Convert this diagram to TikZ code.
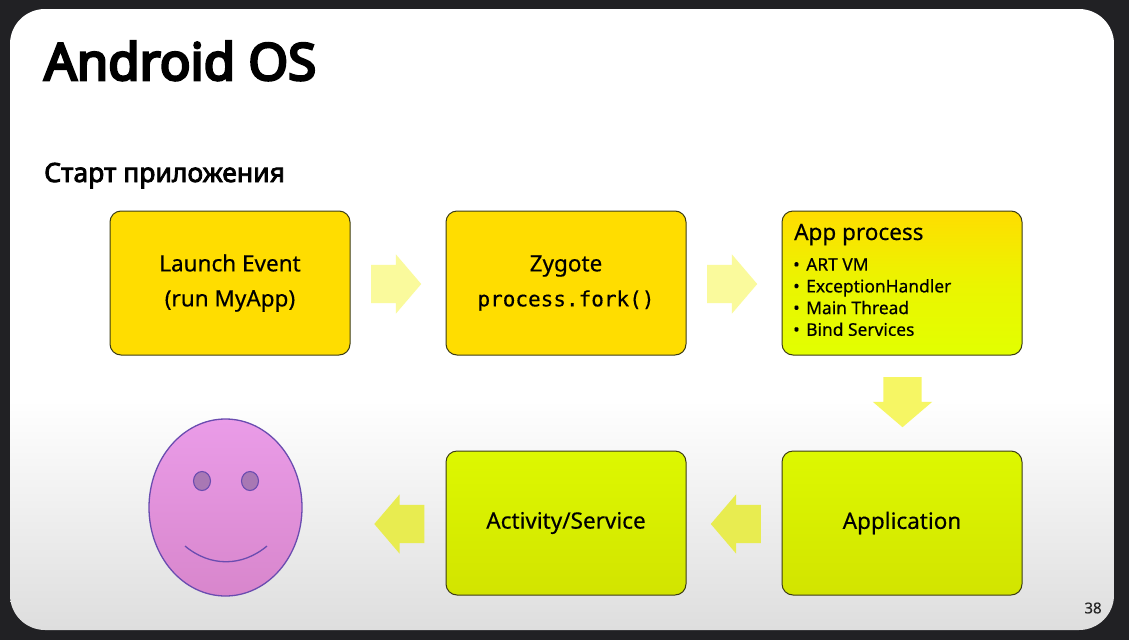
\documentclass[tikz,border=0pt]{standalone}
\usepackage{fontspec}
\setmainfont{Noto Sans}[FakeBold=0.35]
\newfontfamily\headfont{Noto Sans}[FakeBold=3]
\newfontfamily\titlefont{Noto Sans}[FakeBold=5]
\newfontfamily\codefont{DejaVu Sans Mono}[FakeBold=0.25]
\usetikzlibrary{shapes.arrows,shapes.geometric}
\definecolor{slidebg}{HTML}{212124}
\definecolor{boxline}{HTML}{3C3C14}
\definecolor{amber}{HTML}{FFDD00}
\definecolor{lime}{HTML}{E2FF00}
\definecolor{limedark}{HTML}{D2E400}
\definecolor{limelight}{HTML}{DDF800}
\definecolor{facetop}{HTML}{EA9CE8}
\definecolor{facebot}{HTML}{D886CC}
\definecolor{faceline}{HTML}{6A4CB0}
\definecolor{eye}{HTML}{A878B4}
\definecolor{arrowpale}{HTML}{FAFA9C}
\definecolor{arrowmid}{HTML}{F6F664}
\definecolor{arrowlow}{HTML}{E8EC50}
\tikzset{
  box/.style={draw=boxline,line width=1pt,rounded corners=11pt,minimum width=240pt,minimum height=144pt,inner sep=0pt,align=center,text=black,font=\fontsize{22.5}{35}\selectfont},
  ambox/.style={box,fill=amber},
  procbox/.style={box,top color=amber,bottom color=lime,middle color=lime!70!amber},
  limebox/.style={box,top color=limelight,bottom color=limedark},
  blockarrow/.style={single arrow,draw=none,minimum height=50pt,minimum width=59pt,single arrow head extend=10.5pt,single arrow tip angle=99,inner xsep=0pt,inner ysep=19pt,anchor=center},
  downarrow/.style={blockarrow,shape border rotate=270,inner xsep=19pt,inner ysep=0pt},
}
\begin{document}
\begin{tikzpicture}[x=1pt,y=-1pt]
\useasboundingbox (0,0) rectangle (1129,640);
\fill[slidebg] (0,0) rectangle (1129,640);
\begin{scope}
  \clip[rounded corners=35pt] (10,9) rectangle (1114,630);
  \fill[white] (10,9) rectangle (1114,400);
  \shade[top color=white,bottom color=black!13] (10,400) rectangle (1114,630);
\end{scope}
\node[anchor=base west,inner sep=0pt,font=\fontsize{51}{53}\titlefont] (title) at (44,80) {Android OS};
\node[anchor=base west,inner sep=0pt,font=\fontsize{26.5}{28}\headfont] (sub) at (44,182) {Старт приложения};

\node[ambox] (launch) at (230,283) {Launch Event\\(run MyApp)};
\node[ambox] (zygote) at (566,283) {Zygote\\{\codefont\fontsize{21}{35}\selectfont process.fork()}};
\node[procbox] (app) at (902,283) {};
\node[limebox] (application) at (902,523) {Application};
\node[limebox] (activity) at (566,523) {Activity/Service};

\node[anchor=base west,inner sep=0pt,font=\fontsize{22.5}{28}\selectfont] (apptitle) at (794,240) {App process};
\node[anchor=north west,inner sep=0pt,align=left,font=\fontsize{17.4}{21.7}\selectfont] (applist) at (793,258)
  {•\hspace{6.5pt}ART VM\\•\hspace{6.5pt}ExceptionHandler\\•\hspace{6.5pt}Main Thread\\•\hspace{6.5pt}Bind Services};

\node[blockarrow,fill=arrowpale] (a1) at (388,284) {};
\node[blockarrow,fill=arrowpale] (a2) at (724,284) {};
\node[downarrow,fill=arrowmid] (a3) at (902.5,394) {};
\node[blockarrow,fill=arrowlow,shape border rotate=180] (a4) at (744,524) {};
\node[blockarrow,fill=arrowlow,shape border rotate=180] (a5) at (407.5,524) {};

\node[ellipse,draw=faceline,line width=1.3pt,top color=facetop,bottom color=facebot,minimum width=153pt,minimum height=177pt,inner sep=0pt] (face) at (225.5,507.5) {};
\node[ellipse,draw=faceline,line width=1.1pt,fill=eye,minimum width=17pt,minimum height=19pt,inner sep=0pt] (eyeL) at (202,481) {};
\node[ellipse,draw=faceline,line width=1.1pt,fill=eye,minimum width=17pt,minimum height=19pt,inner sep=0pt] (eyeR) at (250,481) {};
\draw[faceline,line width=1.3pt] (185,546) .. controls (210,567) and (242,567) .. (267,546);

\node[inner sep=0pt,font=\fontsize{15}{17}\selectfont,text=black!85] (page) at (1093,608) {38};
\end{tikzpicture}
\end{document}
